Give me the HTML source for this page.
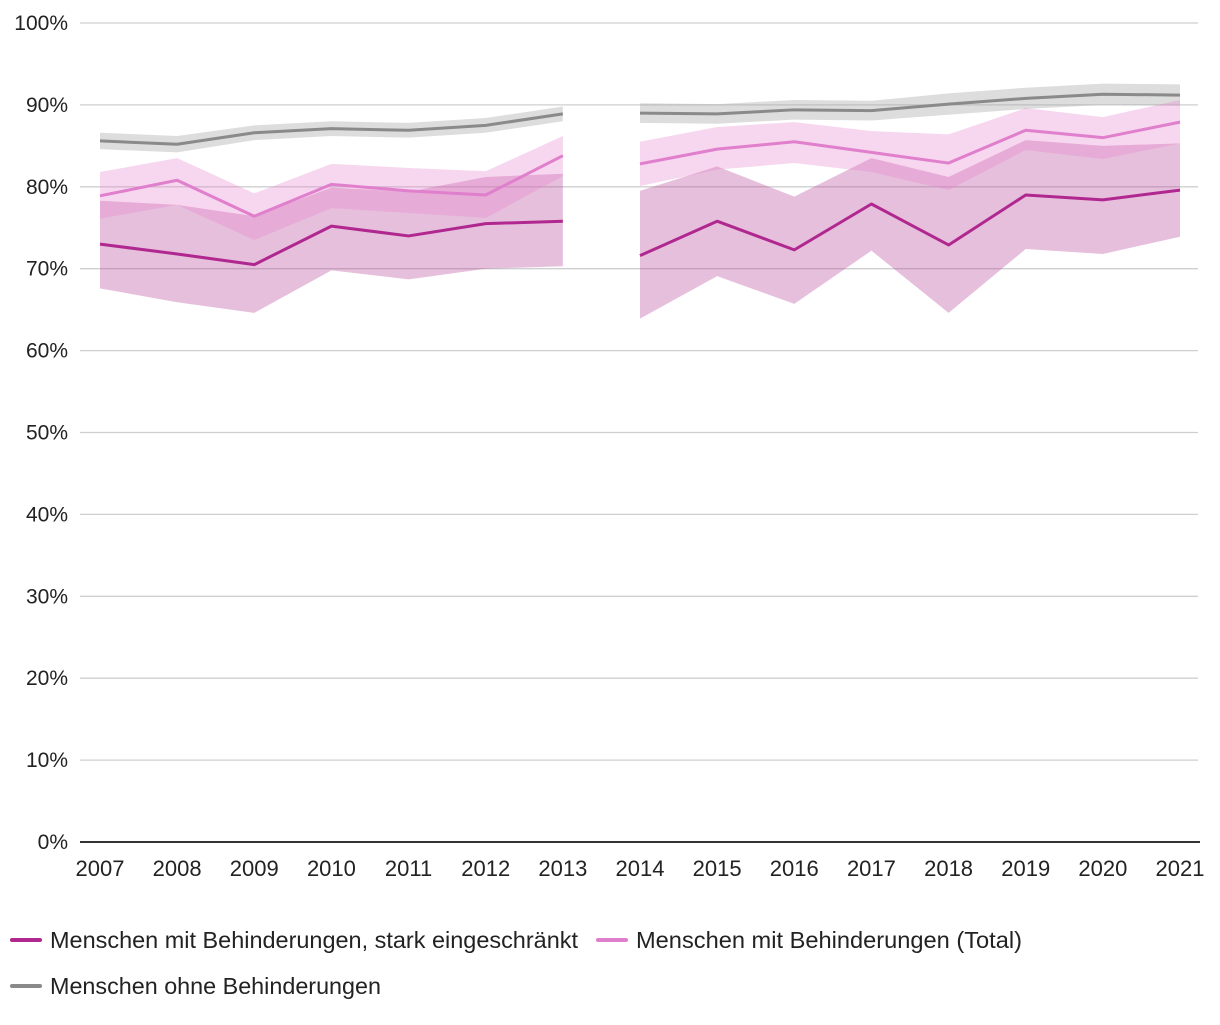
<!DOCTYPE html>
<html><head><meta charset="utf-8">
<style>
body{margin:0;background:#fff;font-family:"Liberation Sans",sans-serif;}
svg text{font-family:"Liberation Sans",sans-serif;fill:#222;}
</style></head>
<body>
<svg id="chart" width="1220" height="1020" xmlns="http://www.w3.org/2000/svg"></svg>
<script>
const years=[2007,2008,2009,2010,2011,2012,2013,2014,2015,2016,2017,2018,2019,2020,2021];
const yTicks=[0,10,20,30,40,50,60,70,80,90,100];
const grayVal=[85.6,85.2,86.6,87.1,86.9,87.5,88.9,89.0,88.9,89.4,89.3,90.1,90.8,91.3,91.2];
const grayLo=[84.6,84.2,85.7,86.2,86.0,86.6,88.0,87.8,87.7,88.2,88.1,88.8,89.5,90.0,89.9];
const grayHi=[86.6,86.2,87.5,88.0,87.8,88.4,89.8,90.2,90.1,90.6,90.5,91.4,92.1,92.6,92.5];
const pinkVal=[78.9,80.8,76.4,80.3,79.5,79.0,83.8,82.8,84.6,85.5,84.2,82.9,86.9,86.0,87.9];
const pinkLo=[76.1,77.8,73.5,77.4,76.8,76.2,81.3,80.1,82.1,82.9,81.8,79.6,84.5,83.4,85.3];
const pinkHi=[81.8,83.5,79.2,82.8,82.3,81.9,86.2,85.5,87.3,87.9,86.8,86.4,89.6,88.5,90.6];
const darkVal=[73.0,71.8,70.5,75.2,74.0,75.5,75.8,71.6,75.8,72.3,77.9,72.9,79.0,78.4,79.6];
const darkLo=[67.6,65.9,64.6,69.8,68.7,70.0,70.3,63.9,69.1,65.7,72.2,64.6,72.4,71.8,73.9];
const darkHi=[78.3,77.8,76.4,79.9,79.4,81.2,81.6,79.5,82.5,78.8,83.5,81.2,85.7,85.0,85.3];
const segments=[[0,7],[7,15]];

const svg=document.getElementById('chart');
const NS='http://www.w3.org/2000/svg';
const X=i=>100+i*(1080/14);
const Y=v=>842-v*8.19;
function mk(tag,attrs,parent){const e=document.createElementNS(NS,tag);for(const k in attrs)e.setAttribute(k,attrs[k]);(parent||svg).appendChild(e);return e;}

yTicks.forEach(t=>{
  if(t>0){const g=mk('line',{x1:80,x2:1198,y1:Y(t),y2:Y(t),stroke:'#cfcfcf','stroke-width':1.3});
  
  }
  const tx=mk('text',{x:68,y:Y(t)+7,'text-anchor':'end','font-size':21});
  tx.textContent=t+'%';
  
  
});
years.forEach((yr,i)=>{
  const tx=mk('text',{x:X(i),y:876,'text-anchor':'middle','font-size':22});
  tx.textContent=yr;
  
  
});

function band(lo,hi,fill,name){
  segments.forEach(([a,b],s)=>{
    let d='';
    for(let i=a;i<b;i++)d+=(i===a?'M':'L')+X(i)+','+Y(hi[i]);
    for(let i=b-1;i>=a;i--)d+='L'+X(i)+','+Y(lo[i]);
    const p=mk('path',{d:d+'Z',fill:fill});
    
    
  });
}
function line(v,color,name){
  segments.forEach(([a,b],s)=>{
    let d='';
    for(let i=a;i<b;i++)d+=(i===a?'M':'L')+X(i)+','+Y(v[i]);
    const p=mk('path',{d:d,fill:'none',stroke:color,'stroke-width':3,'stroke-linejoin':'round'});
    
    
  });
}
band(grayLo,grayHi,'rgba(170,170,170,0.4)','ohne');
band(darkLo,darkHi,'rgba(180,60,150,0.33)','stark');
band(pinkLo,pinkHi,'rgba(230,130,205,0.33)','total');
line(grayVal,'#8a8a8a','ohne');
line(darkVal,'#b0288f','stark');
line(pinkVal,'#e07fcc','total');

const base=mk('line',{x1:80,x2:1200,y1:842,y2:842,stroke:'#333','stroke-width':2});



const legend=[['#b0288f','Menschen mit Behinderungen, stark eingeschränkt',10,940,528],['#e07fcc','Menschen mit Behinderungen (Total)',596,940,386],['#8a8a8a','Menschen ohne Behinderungen',10,986,331]];
legend.forEach(([c,t,x,y,w],k)=>{
  const g=mk('g',{});
  
  
  mk('line',{x1:x+2,x2:x+30,y1:y,y2:y,stroke:c,'stroke-width':4,'stroke-linecap':'round'},g);
  const tx=mk('text',{x:x+40,y:y+8,'font-size':23,textLength:w,lengthAdjust:'spacingAndGlyphs'},g);
  tx.textContent=t;
});
</script>
</body></html>
